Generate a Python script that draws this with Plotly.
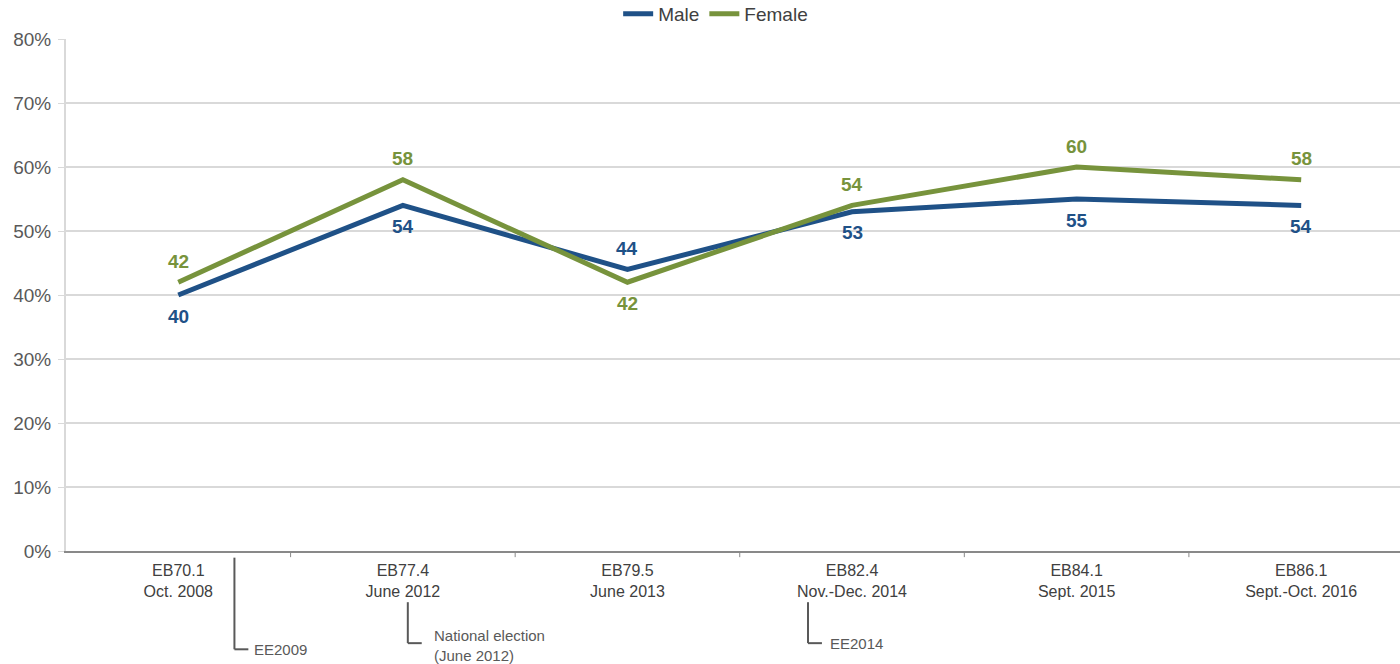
import plotly.graph_objects as go

categories = ["EB70.1<br>Oct. 2008", "EB77.4<br>June 2012", "EB79.5<br>June 2013",
              "EB82.4<br>Nov.-Dec. 2014", "EB84.1<br>Sept. 2015", "EB86.1<br>Sept.-Oct. 2016"]
male = [40, 54, 44, 53, 55, 54]
female = [42, 58, 42, 54, 60, 58]
male_above = [False, False, True, False, False, False]
female_above = [True, True, False, True, True, True]
y_ticks = [0, 10, 20, 30, 40, 50, 60, 70, 80]
y_labels = [f"{v}%" for v in y_ticks]

# event markers: (x in category units, top of line, bottom of line, text gap, text)
events = [
    (0.250, -0.013, -0.192, 0.080, "EE2009"),
    (1.022, -0.100, -0.180, 0.107, "National election<br>(June 2012)"),
    (2.804, -0.100, -0.180, 0.089, "EE2014"),
]

MALE_C = "#1F5187"
FEMALE_C = "#77933C"
x = list(range(len(categories)))

fig = go.Figure()
fig.add_trace(go.Scatter(x=x, y=male, name="Male", mode="lines",
                         line=dict(color=MALE_C, width=5)))
fig.add_trace(go.Scatter(x=x, y=female, name="Female", mode="lines",
                         line=dict(color=FEMALE_C, width=5)))

for vals, above, col in [(male, male_above, MALE_C), (female, female_above, FEMALE_C)]:
    for xi, v, a in zip(x, vals, above):
        fig.add_annotation(x=xi, y=v, xref="x", yref="y", text=str(v), showarrow=False,
                           yshift=21 if a else -21,
                           font=dict(size=19, color=col, family="Liberation Sans", weight="bold"))

for ex, ytop, ybot, gap, txt in events:
    fig.add_shape(type="line", xref="x", yref="paper", x0=ex, x1=ex, y0=ytop, y1=ybot,
                  line=dict(color="#595959", width=2))
    fig.add_shape(type="line", xref="x", yref="paper", x0=ex, x1=ex + 0.062, y0=ybot, y1=ybot,
                  line=dict(color="#595959", width=2))
    fig.add_annotation(x=ex + gap, y=ybot, xref="x", yref="paper", text=txt,
                       showarrow=False, xanchor="left", yanchor="middle", align="left",
                       yshift=-2 if "<br>" in txt else 0,
                       font=dict(size=15, color="#595959", family="Liberation Sans"))

fig.update_layout(
    width=1400, height=664,
    margin=dict(l=66, r=0, t=39, b=113, autoexpand=False),
    paper_bgcolor="white", plot_bgcolor="white",
    font=dict(family="Liberation Sans", color="#595959"),
    showlegend=True,
    legend=dict(orientation="h", x=0.487, xanchor="center", y=1.0488, yanchor="middle",
                font=dict(size=19, color="#404040"), itemwidth=30, tracegroupgap=0),
    xaxis=dict(
        tickmode="array", tickvals=x, ticktext=categories,
        range=[-0.5, 5.44], showgrid=False, zeroline=False,
        showline=True, linecolor="#898989", linewidth=2,
        ticks="", tickfont=dict(size=16, color="#404040"), ticklabelstandoff=4,
        fixedrange=True,
    ),
    yaxis=dict(
        range=[0, 80], tickvals=y_ticks, ticktext=y_labels,
        showgrid=True, gridcolor="#D9D9D9", gridwidth=2,
        zeroline=False, showline=True, linecolor="#D9D9D9", linewidth=2,
        ticks="outside", ticklen=6, tickcolor="#D9D9D9", tickwidth=1,
        tickfont=dict(size=19, color="#595959"), ticklabelstandoff=3,
        fixedrange=True,
    ),
)

# category boundary ticks on the x axis
for b in [i - 0.5 for i in range(1, len(categories))]:
    fig.add_shape(type="line", xref="x", yref="paper", x0=b, x1=b, y0=0, y1=-0.012,
                  line=dict(color="#898989", width=1))

fig.write_html("out.html", config={"displayModeBar": False},
               post_script="document.body.style.margin='0';document.body.style.overflow='hidden';")
